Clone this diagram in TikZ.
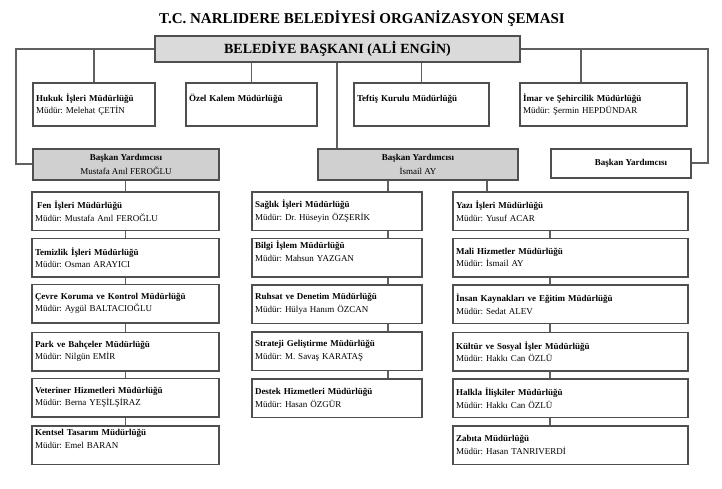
\documentclass[tikz,border=0pt]{standalone}
\usepackage{fontspec}
\setmainfont{Liberation Serif}
\frenchspacing
\definecolor{bord}{HTML}{4F4F4F}
\definecolor{conn}{HTML}{606060}
\definecolor{vpfill}{HTML}{D0D0D0}
\definecolor{mayfill}{HTML}{DADADA}
\tikzset{
  ubox/.style={draw=bord, line width=1.5pt, fill=white, rectangle, inner xsep=3pt, inner ysep=0pt,
    align=left, font=\frenchspacing\fontsize{9}{12.5}\selectfont},
  colL/.style={ubox, minimum width=187, minimum height=38.5, text width=181},
  colM/.style={ubox, minimum width=170, minimum height=38.5, text width=164},
  colR/.style={ubox, minimum width=235, minimum height=38.5, text width=229},
  vpbox/.style={draw=bord, line width=1.5pt, fill=vpfill, rectangle, inner sep=0pt, align=center,
    font=\fontsize{9}{14}\selectfont, minimum height=31},
  link/.style={draw=conn, line width=1.6pt}
}
\begin{document}
\begin{tikzpicture}[x=1pt, y=-1pt]
\useasboundingbox (0,0) rectangle (722,488);
\fill[white] (0,0) rectangle (722,488);

% title
\node[font=\bfseries\fontsize{15}{18}\selectfont] (title) at (362,19) {T.C. NARLIDERE BELEDİYESİ ORGANİZASYON ŞEMASI};

% helper coordinates for connector x-positions
\coordinate (xl) at (16,0);
\coordinate (xr) at (708,0);
\coordinate (xim) at (581,0);
\coordinate (xvp) at (337,0);
\coordinate (xm) at (388,0);
\coordinate (xry) at (487,0);
\coordinate (xrc) at (550,0);
\coordinate (yl) at (0,164);
\coordinate (yr) at (0,163);

% mayor
\node[draw=bord, line width=1.5pt, fill=mayfill, minimum width=365, minimum height=26, inner sep=0pt,
  font=\bfseries\fontsize{14}{16}\selectfont] (mayor) at (337.5,49) {BELEDİYE BAŞKANI (ALİ ENGİN)};

% top row
\node[ubox, minimum width=122, minimum height=43, text width=116] (hukuk) at (94,104.5)
  {\textbf{Hukuk İşleri Müdürlüğü}\\Müdür: Melehat ÇETİN};
\node[ubox, minimum width=131, minimum height=43, text width=125] (ozel) at (251.5,104.5)
  {\textbf{Özel Kalem Müdürlüğü}\\\mbox{}};
\node[ubox, minimum width=135, minimum height=43, text width=129] (teftis) at (421.5,104.5)
  {\textbf{Teftiş Kurulu Müdürlüğü}\\\mbox{}};
\node[ubox, minimum width=167, minimum height=43, text width=161] (imar) at (603.5,104.5)
  {\textbf{İmar ve Şehircilik Müdürlüğü}\\Müdür: Şermin HEPDÜNDAR};

% vice mayors
\node[vpbox, minimum width=186] (vp1) at (126,164.5)
  {\textbf{Başkan Yardımcısı}\\Mustafa Anıl FEROĞLU};
\node[vpbox, minimum width=200] (vp2) at (418,164.5)
  {\textbf{Başkan Yardımcısı}\\İsmail AY};
\node[vpbox, fill=white, minimum width=140, minimum height=29] (vp3) at (621,163.5)
  {\hspace*{20pt}\textbf{Başkan Yardımcısı}};

% left column
\node[colL] (fen) at (125.5,211) {\hspace*{2pt}\textbf{Fen İşleri Müdürlüğü}\\Müdür: Mustafa Anıl FEROĞLU};
\node[colL] (temizlik) at (125.5,257.5) {\textbf{Temizlik İşleri Müdürlüğü}\\Müdür: Osman ARAYICI};
\node[colL] (cevre) at (125.5,303.5) {\textbf{Çevre Koruma ve Kontrol Müdürlüğü}\\Müdür: Aygül BALTACIOĞLU};
\node[colL] (park) at (125.5,351.5) {\textbf{Park ve Bahçeler Müdürlüğü}\\Müdür: Nilgün EMİR};
\node[colL] (vet) at (125.5,397.5) {\textbf{Veteriner Hizmetleri Müdürlüğü}\\Müdür: Berna YEŞİLŞİRAZ};
\node[colL] (kentsel) at (125.5,445) {\textbf{Kentsel Tasarım Müdürlüğü}\\Müdür: Emel BARAN\\\mbox{}};

% middle column
\node[colM] (saglik) at (337,211) {\textbf{Sağlık İşleri Müdürlüğü}\\Müdür: Dr. Hüseyin ÖZŞERİK};
\node[colM] (bilgi) at (337,257.5) {\textbf{Bilgi İşlem Müdürlüğü}\\Müdür: Mahsun YAZGAN\\\mbox{}};
\node[colM] (ruhsat) at (337,304) {\textbf{Ruhsat ve Denetim Müdürlüğü}\\Müdür: Hülya Hanım ÖZCAN};
\node[colM] (strateji) at (337,351) {\textbf{Strateji Geliştirme Müdürlüğü}\\Müdür: M. Savaş KARATAŞ};
\node[colM] (destek) at (337,398) {\textbf{Destek Hizmetleri Müdürlüğü}\\Müdür: Hasan ÖZGÜR};

% right column
\node[colR] (yazi) at (570.5,211) {\textbf{Yazı İşleri Müdürlüğü}\\Müdür: Yusuf ACAR};
\node[colR] (mali) at (570.5,257.5) {\textbf{Mali Hizmetler Müdürlüğü}\\Müdür: İsmail AY};
\node[colR] (insan) at (570.5,304) {\textbf{İnsan Kaynakları ve Eğitim Müdürlüğü}\\Müdür: Sedat ALEV};
\node[colR] (kultur) at (570.5,351.5) {\textbf{Kültür ve Sosyal İşler Müdürlüğü}\\Müdür: Hakkı Can ÖZLÜ};
\node[colR] (halkla) at (570.5,398) {\textbf{Halkla İlişkiler Müdürlüğü}\\Müdür: Hakkı Can ÖZLÜ};
\node[colR] (zabita) at (570.5,445) {\textbf{Zabıta Müdürlüğü}\\Müdür: Hasan TANRIVERDİ};

% connectors from mayor
\draw[link] (mayor.west) -- (mayor.west -| xl) -- (xl |- yl) -- (vp1.west |- yl);
\draw[link] (mayor.west -| hukuk.north) -- (hukuk.north);
\draw[link] (mayor.east) -- (mayor.east -| xr) -- (xr |- yr) -- (vp3.east |- yr);
\draw[link] (mayor.east -| xim) -- (imar.north -| xim);
\draw[link] (mayor.south -| ozel.north) -- (ozel.north);
\draw[link] (mayor.south -| teftis.north) -- (teftis.north);
\draw[link] (mayor.south -| xvp) -- (vp2.north -| xvp);

% vice mayor to columns
\draw[link] (vp1.south -| fen.north) -- (fen.north);
\draw[link] (vp2.south -| xm) -- (saglik.north -| xm);
\draw[link] (vp2.south -| xry) -- (yazi.north -| xry);

% chains
\draw[link] (fen.south) -- (temizlik.north);
\draw[link] (temizlik.south) -- (cevre.north);
\draw[link] (cevre.south) -- (park.north);
\draw[link] (park.south) -- (vet.north);
\draw[link] (vet.south) -- (kentsel.north);

\draw[link] (saglik.south -| xm) -- (bilgi.north -| xm);
\draw[link] (bilgi.south -| xm) -- (ruhsat.north -| xm);
\draw[link] (ruhsat.south -| xm) -- (strateji.north -| xm);
\draw[link] (strateji.south -| xm) -- (destek.north -| xm);

\draw[link] (yazi.south -| xrc) -- (mali.north -| xrc);
\draw[link] (mali.south -| xrc) -- (insan.north -| xrc);
\draw[link] (insan.south -| xrc) -- (kultur.north -| xrc);
\draw[link] (kultur.south -| xrc) -- (halkla.north -| xrc);
\draw[link] (halkla.south -| xrc) -- (zabita.north -| xrc);
\end{tikzpicture}
\end{document}
